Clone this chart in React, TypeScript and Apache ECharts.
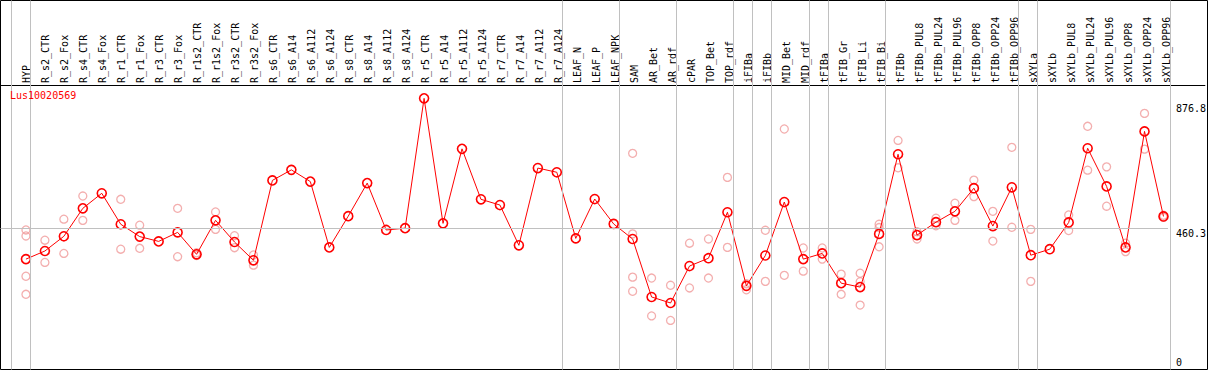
import React, { useEffect, useRef } from "react";
import * as echarts from "echarts";

// ---------- data ----------
const TITLE = "Lus10020569";

const CATEGORIES = [
  "HYP", "R_s2_CTR", "R_s2_Fox", "R_s4_CTR", "R_s4_Fox", "R_r1_CTR", "R_r1_Fox",
  "R_r3_CTR", "R_r3_Fox", "R_r1s2_CTR", "R_r1s2_Fox", "R_r3s2_CTR", "R_r3s2_Fox",
  "R_s6_CTR", "R_s6_A14", "R_s6_A112", "R_s6_A124", "R_s8_CTR", "R_s8_A14",
  "R_s8_A112", "R_s8_A124", "R_r5_CTR", "R_r5_A14", "R_r5_A112", "R_r5_A124",
  "R_r7_CTR", "R_r7_A14", "R_r7_A112", "R_r7_A124", "LEAF_N", "LEAF_P", "LEAF_NPK",
  "SAM", "AR_Bet", "AR_rdf", "cPAR", "TOP_Bet", "TOP_rdf", "iFIBa", "iFIBb",
  "MID_Bet", "MID_rdf", "tFIBa", "tFIB_Gr", "tFIB_Li", "tFIB_Bi", "tFIBb",
  "tFIBb_PUL8", "tFIBb_PUL24", "tFIBb_PUL96", "tFIBb_OPP8", "tFIBb_OPP24",
  "tFIBb_OPP96", "sXYLa", "sXYLb", "sXYLb_PUL8", "sXYLb_PUL24", "sXYLb_PUL96",
  "sXYLb_OPP8", "sXYLb_OPP24", "sXYLb_OPP96",
];

const MEANS = [
  359, 386, 435, 528, 578, 475, 434, 418, 448, 375, 488, 416, 355,
  621, 656, 617, 398, 502, 612, 456, 462, 894, 478, 726, 558, 539, 405, 662, 648,
  428, 559, 476,
  426, 233, 213, 336, 362, 515, 270, 371, 549, 359, 378, 279, 266, 443,
  708, 439, 482, 518, 595, 469, 598,
  372, 392, 481, 728, 601, 398, 784, 501,
];

const REPLICATES: number[][] = [
  [456, 436, 302, 242], [422, 348], [492, 378], [569, 488], [], [558, 392], [472, 395],
  [], [528, 367], [380, 371], [516, 458], [437, 397], [373, 339],
  [], [], [], [], [], [], [], [], [], [], [], [], [], [], [], [],
  [], [], [],
  [711, 443, 299, 252], [296, 170], [272, 155], [412, 263], [426, 296], [631, 398],
  [277, 257], [455, 285], [792, 305], [396, 319], [396, 359], [309, 242],
  [312, 284, 206], [475, 464, 400],
  [754, 663], [450, 426], [495, 470], [545, 488], [622, 567], [518, 419], [731, 465],
  [458, 285], [], [506, 454], [801, 655], [666, 535], [412, 384], [844, 725], [505, 498],
];

// group separators drawn right after these category indices
const SEPARATOR_AFTER = [-1, 0, 28, 31, 34, 37, 38, 39, 41, 42, 45, 52, 53, 60];

const Y_TICK_LABELS = [460.3, 876.8];
const Y_ZERO_LABEL = [0];
const REFERENCE_VALUE = 460.3;

// ---------- layout ----------
const W = 1209;
const H = 370;
const FIRST_X = 26;
const STEP = 19;
const FRAME_L = 0.5;
const FRAME_R = 1207.5;
const FRAME_T = 0.5;
const FRAME_B = 369.5;
const HEADER_Y = 85;
const ZERO_Y = 367;
const PX_PER_UNIT = 0.3005;
const SEP_OFFSET = 0.24;
const FONT = "DejaVu Sans Mono";

const X_MIN = (FRAME_L - FIRST_X) / STEP;
const X_MAX = (FRAME_R - FIRST_X) / STEP;
const Y_MAX = (ZERO_Y - HEADER_Y) / PX_PER_UNIT;

export default function App() {
  const ref = useRef<HTMLDivElement>(null);

  useEffect(() => {
    document.body.style.margin = "0";
    if (!ref.current) return;
    const chart = echarts.init(ref.current, null, { renderer: "svg" });

    const repData: number[][] = [];
    REPLICATES.forEach((arr, i) => arr.forEach((v) => repData.push([i, v])));
    const lastSep = SEPARATOR_AFTER[SEPARATOR_AFTER.length - 1] + SEP_OFFSET;

    const option: any = {
      animation: false,
      backgroundColor: "#fff",
      title: {
        text: TITLE,
        left: 10,
        top: 90,
        padding: 0,
        textStyle: { color: "#ff0000", fontSize: 10, fontWeight: "normal", fontFamily: FONT },
      },
      grid: [
        { left: FIRST_X - STEP / 2, width: STEP * CATEGORIES.length, top: 0, height: 84 },
        { left: FRAME_L, width: FRAME_R - FRAME_L, top: HEADER_Y, height: ZERO_Y - HEADER_Y },
        {
          left: FRAME_L, width: FRAME_R - FRAME_L, top: FRAME_T, height: FRAME_B - FRAME_T,
          show: true, borderColor: "#000", borderWidth: 1, backgroundColor: "transparent",
        },
      ],
      xAxis: [
        {
          gridIndex: 0, type: "category", data: CATEGORIES, position: "bottom", boundaryGap: true,
          axisLine: { show: false }, axisTick: { show: false }, splitLine: { show: false },
          axisLabel: { inside: true, rotate: 90, interval: 0, margin: 1, fontFamily: FONT, fontSize: 10, color: "#000" },
        },
        {
          gridIndex: 1, type: "value", min: X_MIN, max: X_MAX, position: "top",
          axisLine: { show: true, onZero: false, lineStyle: { color: "#000", width: 1 } },
          axisTick: { show: false }, axisLabel: { show: false }, splitLine: { show: false },
        },
        { gridIndex: 2, type: "value", min: X_MIN, max: X_MAX, show: false },
      ],
      yAxis: [
        { gridIndex: 0, type: "value", min: 0, max: 1, show: false },
        {
          gridIndex: 1, type: "value", min: 0, max: Y_MAX, position: "right",
          axisLine: { show: false }, axisTick: { show: false }, splitLine: { show: false },
          axisLabel: {
            inside: true, customValues: Y_TICK_LABELS, align: "left", verticalAlign: "top",
            margin: 29, fontFamily: FONT, fontSize: 10, color: "#000",
            formatter: (v: number) => String(v),
          },
        },
        {
          gridIndex: 1, type: "value", min: 0, max: Y_MAX, position: "right",
          axisLine: { show: false }, axisTick: { show: false }, splitLine: { show: false },
          axisLabel: {
            inside: true, customValues: Y_ZERO_LABEL, align: "left", verticalAlign: "bottom",
            margin: 29, fontFamily: FONT, fontSize: 10, color: "#000",
            formatter: (v: number) => String(v),
          },
        },
        { gridIndex: 2, type: "value", min: 0, max: 1, show: false },
      ],
      series: [
        {
          type: "line", xAxisIndex: 2, yAxisIndex: 3, data: [[X_MIN, -1]], showSymbol: false,
          silent: true, z: 1, lineStyle: { width: 0 },
          markLine: {
            silent: true, symbol: ["none", "none"], label: { show: false },
            lineStyle: { color: "#c0c0c0", width: 1, type: "solid" },
            emphasis: { disabled: true },
            data: SEPARATOR_AFTER.map((i) => ({ xAxis: i + SEP_OFFSET })),
          },
        },
        {
          type: "line", xAxisIndex: 1, yAxisIndex: 1, data: [[X_MIN, -10]], showSymbol: false,
          silent: true, z: 1, lineStyle: { width: 0 },
          markLine: {
            silent: true, symbol: ["none", "none"], label: { show: false },
            lineStyle: { color: "#c0c0c0", width: 1, type: "solid" },
            emphasis: { disabled: true },
            data: [[{ coord: [X_MIN, REFERENCE_VALUE] }, { coord: [lastSep, REFERENCE_VALUE] }]],
          },
        },
        {
          type: "scatter", xAxisIndex: 1, yAxisIndex: 1, data: repData, z: 2,
          symbol: "circle", symbolSize: 8,
          itemStyle: { color: "rgba(0,0,0,0)", borderColor: "#f09a9a", borderWidth: 1.3 },
        },
        {
          type: "line", xAxisIndex: 1, yAxisIndex: 1, z: 3,
          data: MEANS.map((v, i) => [i, v]),
          symbol: "circle", symbolSize: 9, showAllSymbol: true,
          lineStyle: { color: "#ff0000", width: 1 },
          itemStyle: { color: "rgba(0,0,0,0)", borderColor: "#ff0000", borderWidth: 1.6 },
        },
      ],
    };

    chart.setOption(option);
    return () => chart.dispose();
  }, []);

  return <div ref={ref} style={{ width: W, height: H }} />;
}
